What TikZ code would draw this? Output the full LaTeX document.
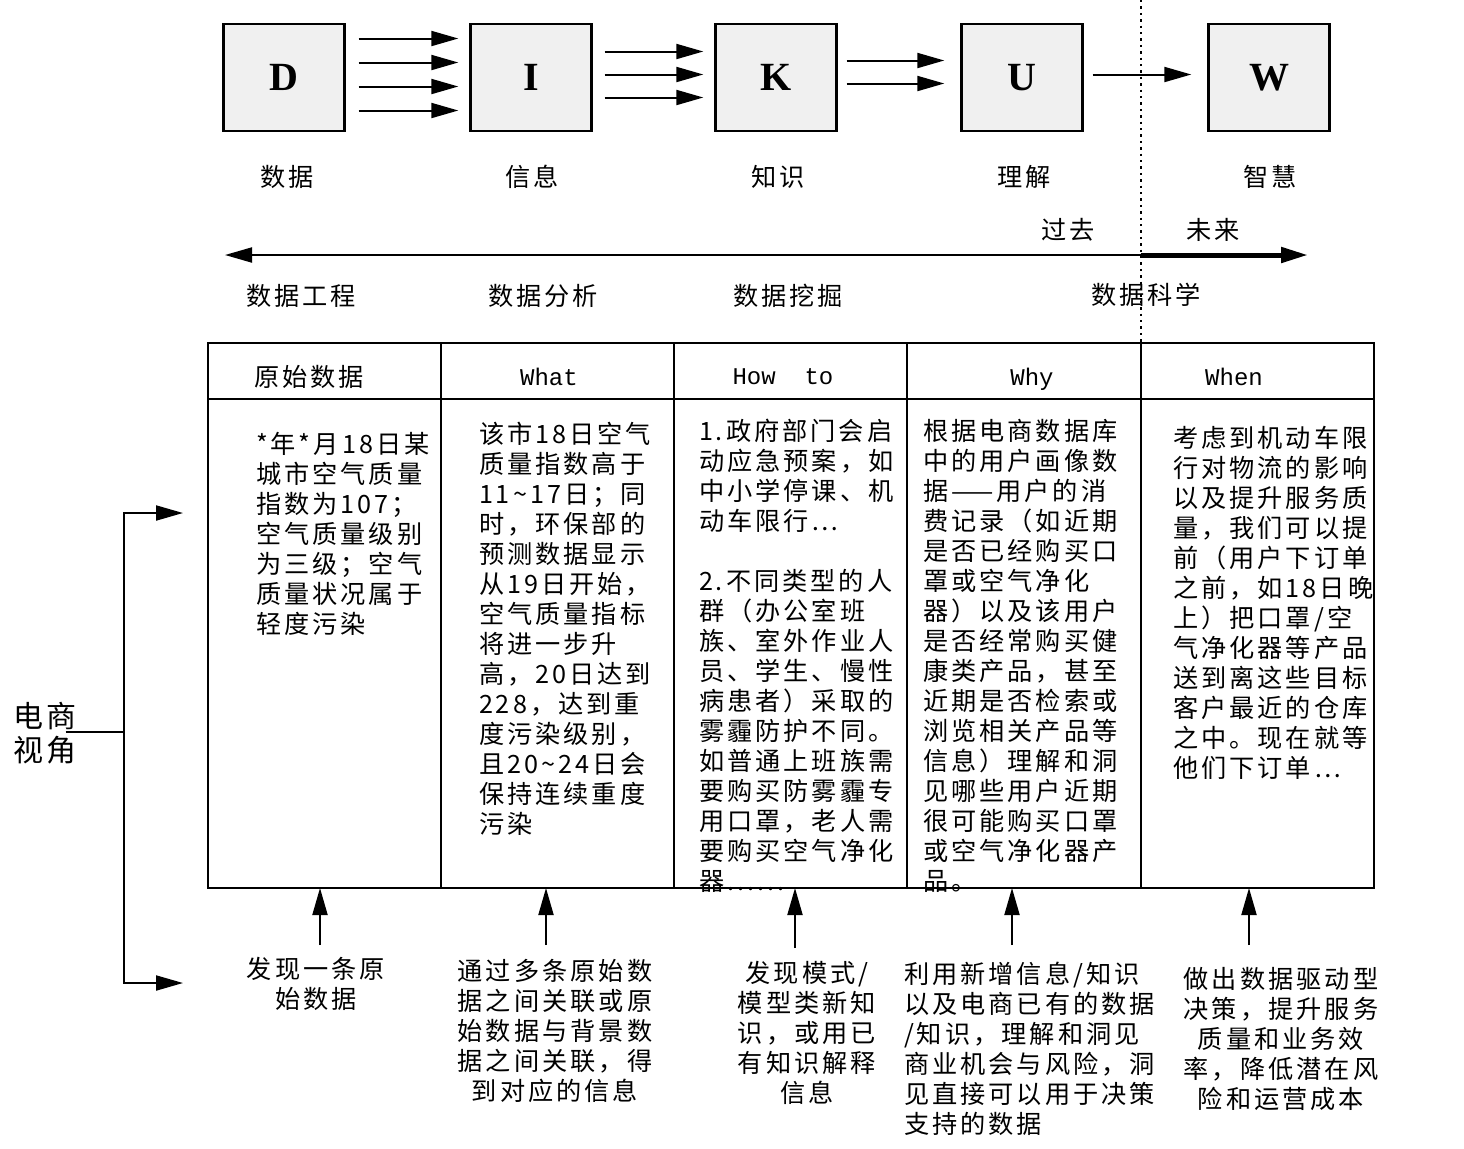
\documentclass[tikz,border=0pt]{standalone}
\usepackage{fontspec}
\setmainfont{Noto Sans CJK SC}[LetterSpace=12]
\newfontfamily\tnr{Liberation Serif}
\newfontfamily\mono{Liberation Mono}
\usetikzlibrary{arrows.meta}
\definecolor{boxgray}{RGB}{240,240,240}
\tikzset{
  dikw/.style={draw,line width=1.2pt,fill=boxgray,minimum width=60.5pt,minimum height=53.5pt,inner sep=0pt,font=\tnr\bfseries\fontsize{20}{20}\selectfont},
  zh/.style={inner sep=0pt,font=\fontsize{12.6}{15}\selectfont},
  cell/.style={zh,align=left,anchor=north west},
  note/.style={zh,align=center,anchor=north},
  head/.style={inner sep=0pt,font=\mono\fontsize{12}{14}\selectfont},
}
\begin{document}
\begin{tikzpicture}[x=0.5pt,y=-0.5pt,>={Triangle[length=13.5pt,width=7.5pt]},line width=1pt]
\useasboundingbox (0,0) rectangle (1464,1148);
\node[dikw] (D) at (284,77.5) {D};
\node[dikw] (I) at (531,77.5) {I};
\node[dikw] (K) at (776,77.5) {K};
\node[dikw] (U) at (1022,77.5) {U};
\node[dikw] (W) at (1269,77.5) {W};
\foreach \dy in {19.5,7.5,-4.5,-16.5}
  \draw[->,shorten <=6.5pt,shorten >=5.5pt] ([yshift=\dy]D.east) -- ([yshift=\dy]I.west);
\foreach \dy in {13,1.5,-10}
  \draw[->,shorten <=6pt,shorten >=5.5pt] ([yshift=\dy]I.east) -- ([yshift=\dy]K.west);
\foreach \dy in {8.5,-3}
  \draw[->,shorten <=4.5pt,shorten >=8pt] ([yshift=\dy]K.east) -- ([yshift=\dy]U.west);
\draw[->,shorten <=4.5pt,shorten >=8pt] ([yshift=1.5]U.east) -- ([yshift=1.5]W.west);
\node[zh] (lD) at (287,177) {数据};
\node[zh] (lI) at (532,177) {信息};
\node[zh] (lK) at (778,177) {知识};
\node[zh] (lU) at (1024,177) {理解};
\node[zh] (lW) at (1270,177) {智慧};

\draw[dotted,line width=1.2pt] (1141,0) -- (1141,343);
\coordinate (now) at (1141,255);
\coordinate (past) at (225,255);
\coordinate (fut) at (1308,255);
\draw[->] (now) -- (past);
\draw[->,line width=2.5pt] (now) -- (fut);
\node[zh] (gq) at (1068,230) {过去};
\node[zh] (wl) at (1213,230) {未来};
\node[zh] (gc) at (301,296) {数据工程};
\node[zh] (fx) at (543,296) {数据分析};
\node[zh] (wj) at (788,296) {数据挖掘};
\node[zh] (kx) at (1146,295) {数据科学};

\draw (208,343) rectangle (1374,888);
\draw (208,399) -- (1374,399);
\foreach \x in {441,674,907,1141} \draw (\x,343) -- (\x,888);
\node[zh,anchor=west] (h1) at (253,377) {原始数据};
\node[head] (h2) at (549,377) {What};
\node[head] (h3) at (783,377) {How\ \ to};
\node[head] (h4) at (1032,379) {Why};
\node[head] (h5) at (1234,377) {When};

\node[cell] (c1) at (255,431) {*年*月18日某\\城市空气质量\\指数为107；\\空气质量级别\\为三级；空气\\质量状况属于\\轻度污染};
\node[cell] (c2) at (478,421) {该市18日空气\\质量指数高于\\11\textasciitilde17日；同\\时，环保部的\\预测数据显示\\从19日开始，\\空气质量指标\\将进一步升\\高，20日达到\\228，达到重\\度污染级别，\\且20\textasciitilde24日会\\保持连续重度\\污染};
\node[cell] (c3) at (698,418) {1.政府部门会启\\动应急预案，如\\中小学停课、机\\动车限行…\\[15pt]2.不同类型的人\\群（办公室班\\族、室外作业人\\员、学生、慢性\\病患者）采取的\\雾霾防护不同。\\如普通上班族需\\要购买防雾霾专\\用口罩，老人需\\要购买空气净化\\器......};
\node[cell] (c4) at (922,418) {根据电商数据库\\中的用户画像数\\据——用户的消\\费记录（如近期\\是否已经购买口\\罩或空气净化\\器）以及该用户\\是否经常购买健\\康类产品，甚至\\近期是否检索或\\浏览相关产品等\\信息）理解和洞\\见哪些用户近期\\很可能购买口罩\\或空气净化器产\\品。};
\node[cell] (c5) at (1172,425) {考虑到机动车限\\行对物流的影响\\以及提升服务质\\量，我们可以提\\前（用户下订单\\之前，如18日晚\\上）把口罩/空\\气净化器等产品\\送到离这些目标\\客户最近的仓库\\之中。现在就等\\他们下订单…};

\node[note] (n1) at (316,956) {发现一条原\\始数据};
\node[note] (n2) at (555,958) {通过多条原始数\\据之间关联或原\\始数据与背景数\\据之间关联，得\\到对应的信息};
\node[note] (n3) at (807,960) {发现模式/\\模型类新知\\识，或用已\\有知识解释\\信息};
\node[cell] (n4) at (903,961) {利用新增信息/知识\\以及电商已有的数据\\/知识，理解和洞见\\商业机会与风险，洞\\见直接可以用于决策\\支持的数据};
\node[note] (n5) at (1281,966) {做出数据驱动型\\决策，提升服务\\质量和业务效\\率，降低潜在风\\险和运营成本};
\coordinate (b1) at (320,888);
\coordinate (b2) at (546,888);
\coordinate (b3) at (795,888);
\coordinate (b4) at (1012,888);
\coordinate (b5) at (1249,888);
\foreach \b in {b1,b2,b4,b5} \draw[->] ([yshift=-28.5pt]\b) -- (\b);
\draw[->] ([yshift=-30pt]b3) -- (b3);

\node[zh,font=\fontsize{15}{17}\selectfont,align=left,anchor=west] (ec) at (12,733) {电商\\视角};
\coordinate (br) at (124,732);
\coordinate (bu) at (124,513);
\coordinate (bd) at (124,983);
\coordinate (tu) at (183,513);
\coordinate (td) at (183,983);
\draw (ec.east |- br) ++(-12,0) -- (br);
\draw[<->] (tu) -- (bu) -- (bd) -- (td);
\end{tikzpicture}
\end{document}
